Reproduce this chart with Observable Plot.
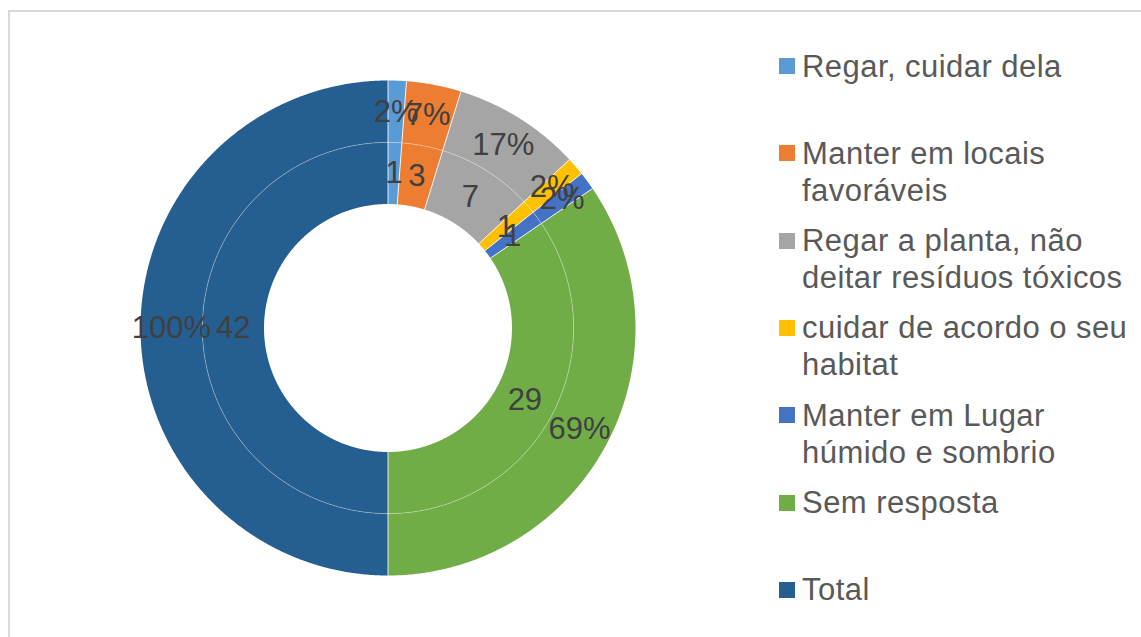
<!DOCTYPE html>
<html><head><meta charset="utf-8">
<script src="https://cdn.jsdelivr.net/npm/d3@7"></script>
<script src="https://cdn.jsdelivr.net/npm/@observablehq/plot@0.6"></script>
<style>
body{margin:0;background:#fff;font-family:"Liberation Sans",Arial,sans-serif;}
#wrap{position:relative;width:1141px;height:637px;overflow:hidden;background:#fff;}
#chart{position:absolute;left:0;top:0;}
#frame{position:absolute;left:8px;top:10px;width:1150px;height:650px;border:2px solid #d9d9d9;box-sizing:border-box;pointer-events:none;}
#legend{position:absolute;left:779px;top:0;}
.item{position:absolute;left:0;display:flex;align-items:flex-start;}
.sw{width:16px;height:16px;margin-top:10.5px;margin-right:7px;flex:none;}
.lab{font-size:31px;line-height:37px;color:#595959;width:345px;letter-spacing:0.45px;}
</style></head>
<body>
<div id="wrap"><div id="chart"></div><div id="legend"></div><div id="frame"></div></div>
<script>
const categories = ["Regar, cuidar dela","Manter em locais favoráveis","Regar a planta, não deitar resíduos tóxicos","cuidar de acordo o seu habitat","Manter em Lugar húmido e sombrio","Sem resposta","Total"];
const counts = [1,3,7,1,1,29,42];
const percents = [2.38,7.14,16.67,2.38,2.38,69.05,100];
const colors = ["#5B9BD5","#ED7D31","#A5A5A5","#FFC000","#4472C4","#70AD47","#255E91"];

const R0 = 124, R1 = 185.6, R2 = 247.5;
const rings = [
  {name:"inner", values: counts, r0: R0, r1: R1, fmt: d => String(d)},
  {name:"outer", values: percents, r0: R1, r1: R2, fmt: d => d3.format(".0%")(d/100)}
];
const pie = d3.pie().sort(null).value(d => d);
const polys = [], seps = [], labels = [];
const pt = (r, a) => ({x: r*Math.sin(a), y: r*Math.cos(a)});
for (const ring of rings) {
  const arcs = pie(ring.values);
  arcs.forEach((arc, i) => {
    const key = ring.name + i;
    const n = Math.max(2, Math.ceil((arc.endAngle - arc.startAngle) / 0.005));
    for (let k = 0; k <= n; k++) {
      const a = arc.startAngle + (arc.endAngle - arc.startAngle) * k / n;
      polys.push({key, cat: categories[i], ...pt(ring.r1, a)});
    }
    for (let k = n; k >= 0; k--) {
      const a = arc.startAngle + (arc.endAngle - arc.startAngle) * k / n;
      polys.push({key, cat: categories[i], ...pt(ring.r0, a)});
    }
    const p0 = pt(ring.r0, arc.startAngle), p1 = pt(ring.r1, arc.startAngle);
    seps.push({x1: p0.x, y1: p0.y, x2: p1.x, y2: p1.y});
    const m = (arc.startAngle + arc.endAngle) / 2;
    labels.push({...pt((ring.r0 + ring.r1) / 2, m), text: ring.fmt(arc.data)});
  });
}
const circle = d3.range(0, 721).map(k => pt(R1, k * Math.PI / 360));

const plot = Plot.plot({
  width: 1141, height: 637, margin: 0,
  x: {domain: [-387.5, 1141 - 387.5], axis: null},
  y: {domain: [327.5 - 637, 327.5], axis: null},
  color: {domain: categories, range: colors},
  style: {background: "transparent", fontFamily: "'Liberation Sans', Arial, sans-serif"},
  marks: [
    Plot.line(polys, {x: "x", y: "y", z: "key", fill: "cat", stroke: "none", curve: "linear-closed"}),
    Plot.link(seps, {x1: "x1", y1: "y1", x2: "x2", y2: "y2", stroke: "white", strokeWidth: 1, strokeOpacity: 0.85}),
    Plot.line(circle, {x: "x", y: "y", stroke: "white", strokeWidth: 0.7, strokeOpacity: 0.45}),
    Plot.text(labels, {x: "x", y: "y", text: "text", fill: "#404040", fontSize: 31})
  ]
});
document.getElementById("chart").appendChild(plot);

const legend = document.getElementById("legend");
categories.forEach((c, i) => {
  const it = document.createElement("div");
  it.className = "item";
  it.style.top = (66 + 87.3 * i - 18.5) + "px";
  const sw = document.createElement("div");
  sw.className = "sw"; sw.style.background = colors[i];
  const lab = document.createElement("div");
  lab.className = "lab"; lab.textContent = c;
  it.appendChild(sw); it.appendChild(lab);
  legend.appendChild(it);
});
</script>
</body></html>
